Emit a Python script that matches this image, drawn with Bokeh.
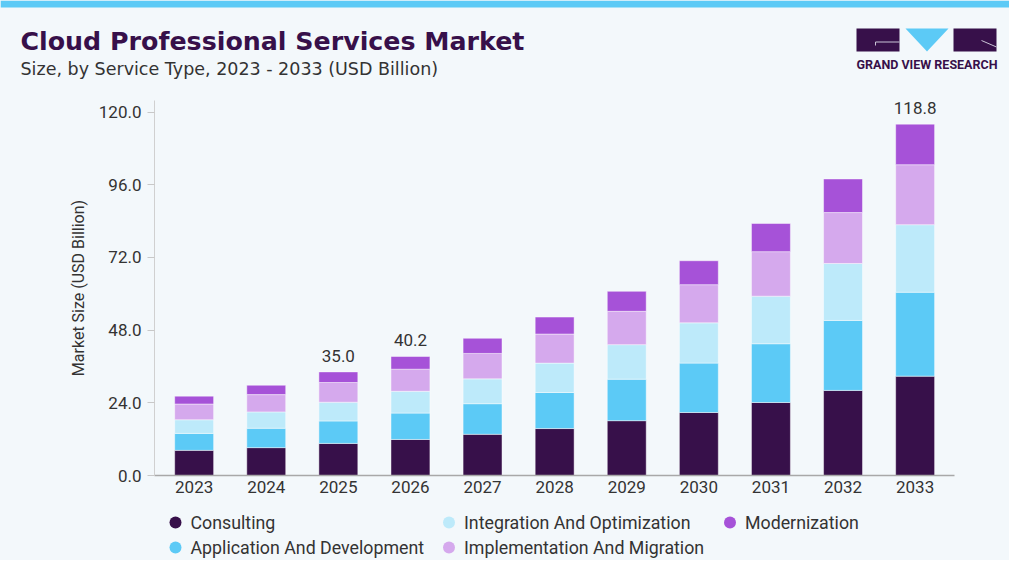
from bokeh.plotting import figure
from bokeh.layouts import column
from bokeh.models import Range1d, FixedTicker, NumeralTickFormatter, ColumnDataSource
from bokeh.core.properties import value
from bokeh.embed import file_html
from bokeh.resources import INLINE

# ---------------- data ----------------
years = [2023, 2024, 2025, 2026, 2027, 2028, 2029, 2030, 2031, 2032, 2033]
consulting = [8.3, 9.2, 10.6, 11.9, 13.6, 15.5, 18.1, 20.8, 24.1, 28.1, 32.8]
application = [5.6, 6.4, 7.4, 8.7, 10.1, 11.9, 13.7, 16.3, 19.4, 23.1, 27.7]
integration = [4.5, 5.4, 6.2, 7.2, 8.2, 9.7, 11.4, 13.3, 15.7, 18.8, 22.3]
implementation = [5.2, 5.7, 6.5, 7.3, 8.4, 9.6, 11.0, 12.6, 14.7, 16.8, 19.8]
modernization = [2.6, 3.1, 3.5, 4.2, 5.0, 5.6, 6.6, 7.9, 9.3, 11.1, 13.4]

series_names = ["Consulting", "Application And Development", "Integration And Optimization",
                "Implementation And Migration", "Modernization"]
series_values = [consulting, application, integration, implementation, modernization]
colors = ["#37104a", "#5ccaf6", "#bdeafa", "#d5a9ed", "#a652d8"]

label_years = [2025, 2026, 2033]
label_texts = ["35.0", "40.2", "118.8"]

y_ticks = [0, 24, 48, 72, 96, 120]

title = "Cloud Professional Services Market"
subtitle = "Size, by Service Type, 2023 - 2033 (USD Billion)"
y_title = "Market Size (USD Billion)"
brand = "GRAND VIEW RESEARCH"

BG = "#f3f8fb"
DARK = "#37104a"
TXT = "#333333"
FONT = "Roboto"
BGSTYLE = {"background-color": BG}

W = 1009


def blank(h, y0, y1):
    f = figure(width=W, height=h, x_range=Range1d(0, W), y_range=Range1d(y1, y0),
               output_backend="svg", toolbar_location=None, min_border=0)
    f.axis.visible = False
    f.grid.visible = False
    f.outline_line_color = None
    f.background_fill_color = BG
    f.border_fill_color = BG
    return f


# ---------------- header ----------------
head = blank(92, 0, 92)
head.quad(left=[0], right=[W], top=[0], bottom=[7], fill_color="#5ccaf6", line_color=None)
head.text(x=[20], y=[41], text=[title], text_font=value("DejaVu Sans"), text_font_size="25.3px",
          text_font_style="bold", text_color=DARK, text_baseline="middle")
head.text(x=[20], y=[68], text=[subtitle], text_font=value("DejaVu Sans"), text_font_size="17.5px",
          text_color=TXT, text_baseline="middle")
head.quad(left=[856, 953], right=[899, 996], top=[28, 28], bottom=[51, 51], fill_color=DARK, line_color=None)
head.patch(x=[905, 948, 926.5], y=[28, 28, 51], fill_color="#5ccaf6", line_color=None)
head.line(x=[875, 899], y=[41.5, 41.5], line_color="#c9c3d6", line_width=1)
head.line(x=[875, 875], y=[41.5, 45], line_color="#c9c3d6", line_width=1)
head.line(x=[981, 996], y=[40, 46.5], line_color="#c9c3d6", line_width=1)
head.text(x=[926.5], y=[63.5], text=[brand], text_font=value(FONT), text_font_size="12.5px",
          text_font_style="bold", text_color=DARK, text_baseline="middle", text_align="center")

# ---------------- main chart ----------------
p = figure(width=W, height=413, x_range=Range1d(2022.45, 2033.546), y_range=Range1d(0, 123.8),
           output_backend="svg", toolbar_location=None,
           min_border_left=154, min_border_right=55, min_border_top=8, min_border_bottom=30)
p.background_fill_color = BG
p.border_fill_color = BG
p.outline_line_color = None
p.grid.visible = False

bottom = [0.0] * len(years)
for name, vals, col in zip(series_names, series_values, colors):
    top = [b + v for b, v in zip(bottom, vals)]
    src = ColumnDataSource(dict(x=years, bottom=bottom, top=top))
    p.vbar(x="x", bottom="bottom", top="top", width=0.54, source=src,
           fill_color=col, line_color="#ffffff", line_alpha=0.45, line_width=1)
    bottom = top

totals = bottom
lab_y = [totals[years.index(yr)] for yr in label_years]
p.text(x=label_years, y=lab_y, text=label_texts, text_font=value(FONT), text_font_size="17px",
       text_color=TXT, text_align="center", text_baseline="bottom", y_offset=-10)

yax = p.yaxis[0]
yax.ticker = FixedTicker(ticks=y_ticks)
yax.formatter = NumeralTickFormatter(format="0.0")
yax.minor_tick_line_color = None
yax.major_tick_in = 0
yax.major_tick_out = 7
yax.major_tick_line_color = "#c8c8c8"
yax.axis_line_color = "#d0d0d0"
yax.major_label_text_font = FONT
yax.major_label_text_font_size = "17px"
yax.major_label_text_color = TXT
yax.major_label_standoff = 6
yax.axis_label = y_title
yax.axis_label_text_font = FONT
yax.axis_label_text_font_size = "16px"
yax.axis_label_text_font_style = "normal"
yax.axis_label_text_color = TXT
yax.axis_label_standoff = 8

xax = p.xaxis[0]
xax.ticker = FixedTicker(ticks=years)
xax.minor_tick_line_color = None
xax.major_tick_line_color = None
xax.major_tick_out = 0
xax.axis_line_color = "#a8a8a8"
xax.axis_line_width = 1.5
xax.major_label_text_font = FONT
xax.major_label_text_font_size = "17px"
xax.major_label_text_color = TXT
xax.major_label_standoff = 5

# ---------------- legend (footer) ----------------
foot = blank(55, 505, 560)
col_x = [175, 448.5, 729.5]
lx = [col_x[i // 2] for i in range(len(series_names))]
ly = [522 + 25 * (i % 2) for i in range(len(series_names))]
foot.scatter(x=lx, y=ly, size=12, marker="circle", fill_color=colors, line_color=None)
foot.text(x=[v + 15 for v in lx], y=ly, text=series_names, text_font=value(FONT),
          text_font_size="17.8px", text_color=TXT, text_baseline="middle")

layout = column(column(head, styles=BGSTYLE), p, column(foot, styles=BGSTYLE),
                spacing=0, styles=BGSTYLE)
open("out.html", "w").write(file_html(layout, INLINE))
